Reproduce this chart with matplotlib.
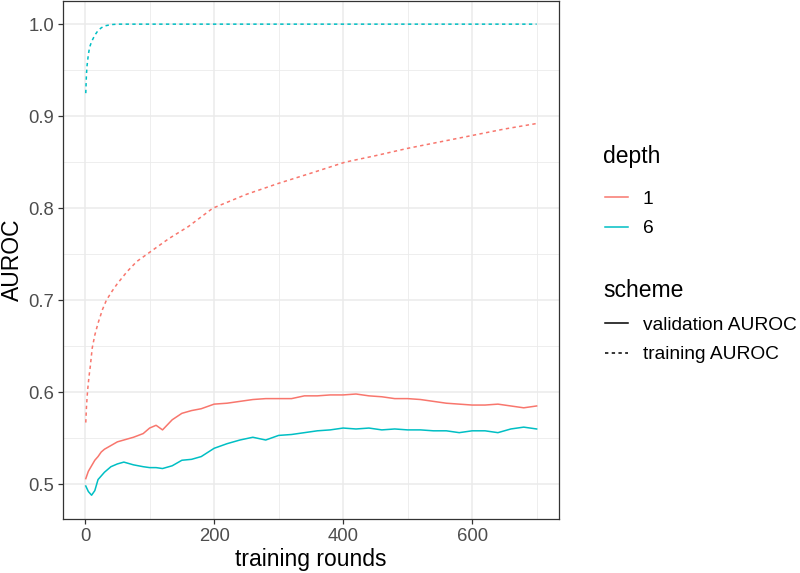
import matplotlib
matplotlib.use("Agg")
import matplotlib.pyplot as plt
from matplotlib.lines import Line2D

# validation AUROC
val_rounds = [1, 5, 10, 15, 20, 25, 30, 40, 50, 60, 75, 90, 100, 110, 120, 135, 150, 165, 180,
              200, 220, 240, 260, 280, 300, 320, 340, 360, 380, 400, 420, 440, 460, 480, 500,
              520, 540, 560, 580, 600, 620, 640, 660, 680, 700]
val_depth1 = [0.506, 0.514, 0.520, 0.526, 0.530, 0.535, 0.538, 0.542, 0.546, 0.548, 0.551, 0.555,
              0.561, 0.564, 0.559, 0.570, 0.577, 0.580, 0.582, 0.587, 0.588, 0.590, 0.592, 0.593,
              0.593, 0.593, 0.596, 0.596, 0.597, 0.597, 0.598, 0.596, 0.595, 0.593, 0.593, 0.592,
              0.590, 0.588, 0.587, 0.586, 0.586, 0.587, 0.585, 0.583, 0.585]
val_depth6 = [0.498, 0.492, 0.488, 0.493, 0.505, 0.509, 0.513, 0.519, 0.522, 0.524, 0.521, 0.519,
              0.518, 0.518, 0.517, 0.520, 0.526, 0.527, 0.530, 0.539, 0.544, 0.548, 0.551, 0.548,
              0.553, 0.554, 0.556, 0.558, 0.559, 0.561, 0.560, 0.561, 0.559, 0.560, 0.559, 0.559,
              0.558, 0.558, 0.556, 0.558, 0.558, 0.556, 0.560, 0.562, 0.560]

# training AUROC
tr1_rounds = [1, 2, 3, 4, 6, 8, 11, 15, 20, 27, 33, 42, 50, 65, 80, 100, 130, 160, 198, 250,
              300, 350, 403, 450, 500, 550, 600, 650, 700]
tr_depth1 = [0.567, 0.583, 0.594, 0.603, 0.617, 0.628, 0.648, 0.662, 0.675, 0.690, 0.700, 0.710,
             0.718, 0.731, 0.742, 0.752, 0.767, 0.780, 0.800, 0.815, 0.827, 0.838, 0.850, 0.857,
             0.865, 0.872, 0.879, 0.886, 0.892]
tr6_rounds = [1, 2, 3, 5, 7, 10, 15, 20, 25, 30, 40, 50, 700]
tr_depth6 = [0.925, 0.945, 0.955, 0.967, 0.975, 0.981, 0.988, 0.993, 0.996, 0.998, 0.9995, 1.0, 1.0]

depth_labels = ["1", "6"]
scheme_labels = ["validation AUROC", "training AUROC"]
colors = ["#F8766D", "#00BFC4"]

plt.rcParams["font.family"] = ["Liberation Sans", "DejaVu Sans"]

fig = plt.figure(figsize=(8, 5.73), dpi=100)
ax = fig.add_axes([0.079, 0.094, 0.62, 0.904])

dash = (0, (2.2, 2.2))
ax.plot(val_rounds, val_depth1, color=colors[0], lw=1.1)
ax.plot(val_rounds, val_depth6, color=colors[1], lw=1.1)
ax.plot(tr1_rounds, tr_depth1, color=colors[0], lw=1.1, linestyle=dash)
ax.plot(tr6_rounds, tr_depth6, color=colors[1], lw=1.1, linestyle=dash)

ax.set_xlim(-34, 735)
ax.set_ylim(0.462, 1.025)
ax.set_xticks([0, 200, 400, 600])
ax.set_xticks([100, 300, 500, 700], minor=True)
ax.set_yticks([0.5, 0.6, 0.7, 0.8, 0.9, 1.0])
ax.set_yticks([0.55, 0.65, 0.75, 0.85, 0.95], minor=True)
ax.grid(True, which="major", color="#EBEBEB", lw=1.1)
ax.grid(True, which="minor", color="#EBEBEB", lw=0.6)
ax.set_axisbelow(True)
ax.tick_params(which="major", length=3.5, width=0.9, color="#333333", pad=3,
               labelsize=13.3, labelcolor="#4D4D4D")
ax.tick_params(which="minor", length=0)
for s in ax.spines.values():
    s.set_color("#333333")
    s.set_linewidth(0.9)

ax.set_xlabel("training rounds", fontsize=16.5, labelpad=2)
ax.set_ylabel("AUROC", fontsize=16.5)
ax.yaxis.set_label_coords(-0.079, 0.5)

# legends: titles drawn separately so the gap matches ggplot
fig.text(603 / 800, 1 - 157 / 573, "depth", fontsize=16.5, va="center", ha="left")
fig.text(603 / 800, 1 - 290 / 573, "scheme", fontsize=16.5, va="center", ha="left")

h1 = [Line2D([], [], color=c, lw=1.1) for c in colors]
fig.legend(h1, depth_labels, loc="center left", bbox_to_anchor=(605 / 800, 1 - 214 / 573),
           frameon=False, fontsize=13.8, borderpad=0, borderaxespad=0,
           handlelength=1.2, handletextpad=0.78, labelspacing=0.62)
h2 = [Line2D([], [], color="black", lw=1.1),
      Line2D([], [], color="black", lw=1.1, linestyle=dash)]
fig.legend(h2, scheme_labels, loc="center left", bbox_to_anchor=(605 / 800, 1 - 340 / 573),
           frameon=False, fontsize=13.8, borderpad=0, borderaxespad=0,
           handlelength=1.2, handletextpad=0.78, labelspacing=0.62)

fig.savefig("out.png", dpi=100)
